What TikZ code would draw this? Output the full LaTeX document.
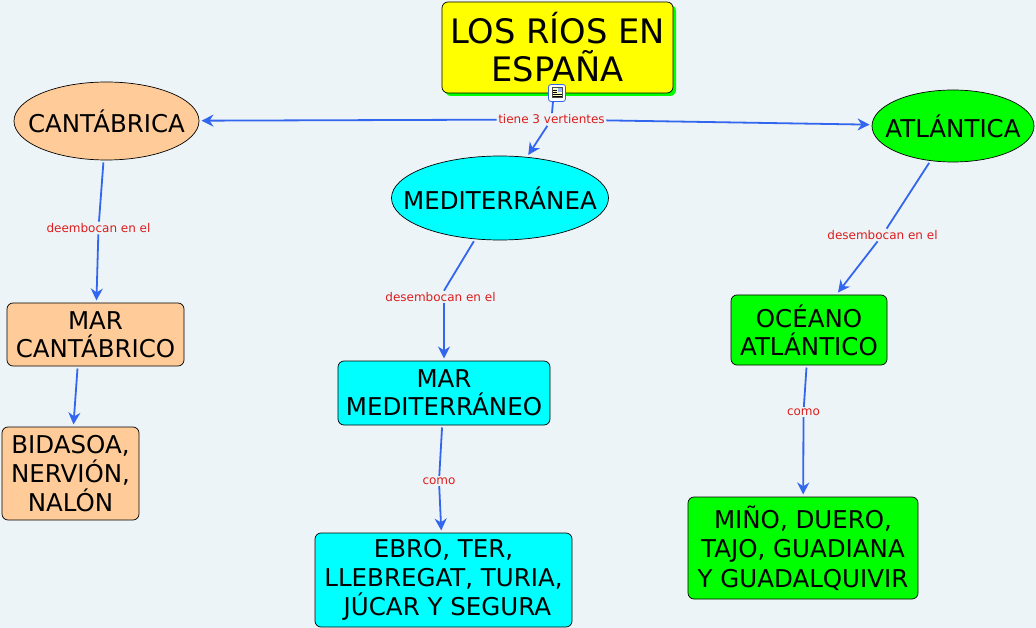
\documentclass[tikz,border=0pt]{standalone}
\usepackage{fontspec}
\setmainfont{DejaVu Sans}
\usetikzlibrary{arrows.meta,shapes.geometric,shadows}
\definecolor{fondo}{HTML}{EDF4F7}
\definecolor{melocoton}{HTML}{FFCC99}
\definecolor{amarillo}{HTML}{FFFF00}
\definecolor{celeste}{HTML}{00FFFF}
\definecolor{verde}{HTML}{00FF00}
\definecolor{azulflecha}{HTML}{3366EE}
\definecolor{rojoetq}{HTML}{DD1C1C}
\newcommand{\sinancho}[1]{\makebox[0pt]{#1}}
\tikzset{
	concepto/.style={draw=black, line width=0.7pt, align=center, inner sep=0pt, outer sep=2.5pt, font=\fontsize{24.5}{28}\selectfont},
	caja/.style={concepto, rectangle, rounded corners=6pt},
	tresfilas/.style={caja, font=\fontsize{24.5}{29.3}\selectfont},
	vertiente/.style={concepto, ellipse},
	etiqueta/.style={fill=fondo, text=rojoetq, inner sep=1.5pt, font=\fontsize{12}{14}\selectfont},
	flecha/.style={azulflecha, line width=1.8pt, -{Stealth[length=12pt,width=12pt]}},
	tramo/.style={azulflecha, line width=1.8pt}
}
\begin{document}
\begin{tikzpicture}[x=1pt, y=-1pt]
	\fill[fondo] (0,0) rectangle (1036,628);
	\useasboundingbox (0,0) rectangle (1036,628);
	% titulo
	\node[caja, fill=amarillo, minimum width=231pt, minimum height=91pt, outer sep=0pt, font=\fontsize{33.7}{38}\selectfont,
		drop shadow={shadow xshift=3pt, shadow yshift=-3pt, fill=verde, opacity=1}] (titulo) at (557.5,47.5) {LOS RÍOS EN\\ESPAÑA};
	% vertientes
	\node[vertiente, fill=melocoton, minimum width=185pt, minimum height=78pt] (cantabrica) at (106.5,121) {\sinancho{CANTÁBRICA}};
	\node[vertiente, fill=celeste, minimum width=217pt, minimum height=84pt] (mediterranea) at (500,198) {\sinancho{MEDITERRÁNEA}};
	\node[vertiente, fill=verde, minimum width=162pt, minimum height=72pt] (atlantica) at (953,126) {\sinancho{ATLÁNTICA}};
	% mares
	\node[caja, fill=melocoton, minimum width=177pt, minimum height=63pt] (marcan) at (95.5,334.5) {MAR\\CANTÁBRICO};
	\node[caja, fill=celeste, minimum width=212pt, minimum height=64pt] (marmed) at (444,393) {MAR\\MEDITERRÁNEO};
	\node[caja, fill=verde, minimum width=156pt, minimum height=70pt] (oceano) at (809,330) {OCÉANO\\ATLÁNTICO};
	% rios
	\node[tresfilas, fill=melocoton, minimum width=137pt, minimum height=93pt] (bidasoa) at (70.5,473.5) {BIDASOA,\\NERVIÓN,\\NALÓN};
	\node[tresfilas, fill=celeste, minimum width=257pt, minimum height=94pt] (ebro) at (443.5,580) {EBRO, TER,\\LLEBREGAT, TURIA,\\\ JÚCAR Y SEGURA};
	\node[tresfilas, fill=verde, minimum width=230pt, minimum height=102pt] (mino) at (803,548) {MIÑO, DUERO,\\TAJO, GUADIANA\\Y GUADALQUIVIR};
	% etiquetas
	\node[etiqueta] (tiene) at (551.5,119.5) {tiene 3 vertientes};
	\node[etiqueta] (deembocan) at (98.5,228) {deembocan en el};
	\node[etiqueta] (desemmed) at (440.5,297) {desembocan en el};
	\node[etiqueta] (desematl) at (882.5,235) {desembocan en el};
	\node[etiqueta] (comomed) at (439,481) {como};
	\node[etiqueta] (comoatl) at (803.5,412) {como};
	% conectores
	\draw[tramo] (titulo) -- (tiene);
	\draw[flecha] (tiene) -- (cantabrica);
	\draw[flecha] (tiene) -- (atlantica);
	\draw[flecha] (tiene) -- (mediterranea);
	\draw[tramo] (cantabrica) -- (deembocan);
	\draw[flecha] (deembocan) -- (marcan);
	\draw[flecha] ([xshift=-18pt]marcan.south) -- ([xshift=3pt]bidasoa.north);
	\draw[tramo] (mediterranea) -- (desemmed.north -| marmed);
	\draw[flecha] (desemmed.south -| marmed) -- (marmed);
	\draw[tramo] (marmed) -- (comomed);
	\draw[flecha] (comomed) -- (ebro);
	\draw[tramo] (atlantica) -- (desematl);
	\draw[flecha] (desematl) -- (oceano);
	\draw[tramo] (oceano) -- (comoatl);
	\draw[flecha] (comoatl) -- (mino);
	% icono
	\node[draw=azulflecha, fill=white, rounded corners=2.5pt, minimum size=17pt, inner sep=0pt, line width=0.8pt] (icono) at (557,93) {};
	\fill[black!70] (551.5,87.5) rectangle (562.5,98.5);
	\fill[amarillo!25] (552.5,88.5) rectangle (561.5,97.5);
	\fill[azulflecha!50] (557.5,88.5) rectangle (561.5,92);
	\draw[black, line width=0.6pt] (552.5,90) -- (556.5,90) (552.5,92) -- (556.5,92) (552.5,94) -- (561.5,94) (552.5,96) -- (561.5,96);
\end{tikzpicture}
\end{document}
